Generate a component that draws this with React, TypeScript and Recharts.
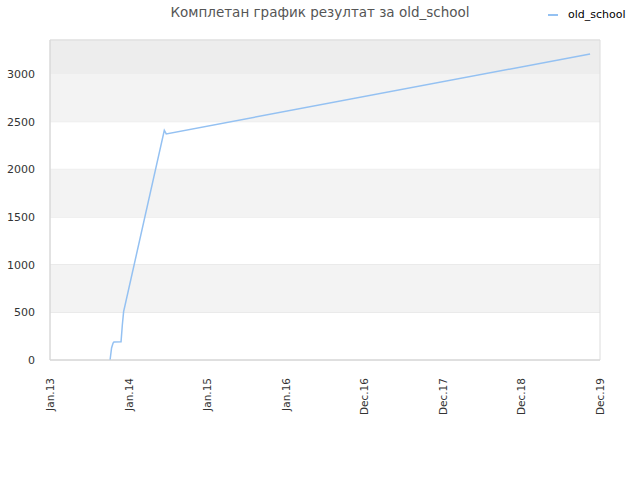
import React from "react";
import {
  LineChart,
  Line,
  XAxis,
  YAxis,
  CartesianGrid,
  ReferenceArea,
} from "recharts";

const TITLE = "Комплетан график резултат за old_school";
const SERIES_NAME = "old_school";

const dates = [
  "2013-10-07",
  "2013-10-14",
  "2013-10-21",
  "2013-10-25",
  "2013-11-27",
  "2013-12-03",
  "2013-12-09",
  "2014-06-16",
  "2014-06-25",
  "2019-11-15",
];
const values = [0, 126, 178, 189, 191, 367, 507, 2410, 2372, 3210];

const tickDates = [
  "2013-01-01",
  "2014-01-01",
  "2015-01-01",
  "2016-01-01",
  "2016-12-31",
  "2017-12-31",
  "2018-12-31",
  "2019-12-31",
];
const tickLabels = ["Jan.13", "Jan.14", "Jan.15", "Jan.16", "Dec.16", "Dec.17", "Dec.18", "Dec.19"];

const yTicks = [0, 500, 1000, 1500, 2000, 2500, 3000];
const yMax = 3357;
const bands = [
  [500, 1000],
  [1500, 2000],
  [2500, 3000],
];

const toTime = (s: string) => Date.parse(s + "T00:00:00Z");
const xTicks = tickDates.map(toTime);
const labelFor: Record<number, string> = {};
xTicks.forEach((t, i) => (labelFor[t] = tickLabels[i]));

const data = dates.map((d, i) => ({ t: toTime(d), v: values[i] }));

const FONT = "'DejaVu Sans', Verdana, sans-serif";

const XTick = (props: any) => {
  const { x, y, payload } = props;
  return (
    <text
      x={0}
      y={0}
      transform={`translate(${x + 4},${y + 10}) rotate(-90)`}
      textAnchor="end"
      fontSize={10.5}
      fill="#333"
      fontFamily={FONT}
    >
      {labelFor[payload.value]}
    </text>
  );
};

export default function App() {
  return (
    <div style={{ position: "absolute", left: 0, top: 0, width: 640, height: 480, background: "#fff" }}>
      <div
        style={{
          position: "absolute",
          left: 0,
          width: 640,
          top: 4,
          textAlign: "center",
          fontFamily: FONT,
          fontSize: 13.5,
          color: "#555",
        }}
      >
        <span style={{ marginLefts: -4 } as any}>{TITLE}</span>
      </div>
      <div
        style={{
          position: "absolute",
          left: 548,
          top: 8,
          fontFamily: FONT,
          fontSize: 11,
          color: "#000",
          display: "flex",
          alignItems: "center",
        }}
      >
        <span style={{ display: "inline-block", width: 10, height: 2, background: "#94c1f2", marginRight: 10 }} />
        <span>{SERIES_NAME}</span>
      </div>
      <LineChart
        width={640}
        height={480}
        data={data}
        margin={{ top: 40, right: 40, left: 0, bottom: 0 }}
        style={{ position: "absolute", left: 0, top: 0 }}
      >
        {bands.map(([a, b], i) => (
          <ReferenceArea key={i} y1={a} y2={b} fill="#f3f3f3" fillOpacity={1} stroke="none" ifOverflow="hidden" />
        ))}
        <ReferenceArea y1={3000} y2={yMax} fill="#ededed" fillOpacity={1} stroke="none" ifOverflow="hidden" />
        <CartesianGrid vertical={false} stroke="#e2e2e2" />
        <ReferenceArea
          x1={xTicks[0]}
          x2={xTicks[xTicks.length - 1]}
          y1={0}
          y2={yMax}
          fill="none"
          stroke="#dcdcdc"
          strokeWidth={1}
        />
        <XAxis
          dataKey="t"
          type="number"
          scale="time"
          domain={[xTicks[0], xTicks[xTicks.length - 1]]}
          ticks={xTicks}
          tick={<XTick />}
          tickLine={false}
          axisLine={{ stroke: "#d8d8d8" }}
          height={120}
          interval={0}
        />
        <YAxis
          type="number"
          domain={[0, yMax]}
          ticks={yTicks}
          tickLine={false}
          axisLine={{ stroke: "#d8d8d8" }}
          width={50}
          tickMargin={9}
          tick={{ fontSize: 11, fill: "#333", fontFamily: FONT }}
          interval={0}
        />
        <Line
          type="linear"
          dataKey="v"
          stroke="#94c1f2"
          strokeWidth={1.5}
          dot={false}
          isAnimationActive={false}
        />
      </LineChart>
    </div>
  );
}
